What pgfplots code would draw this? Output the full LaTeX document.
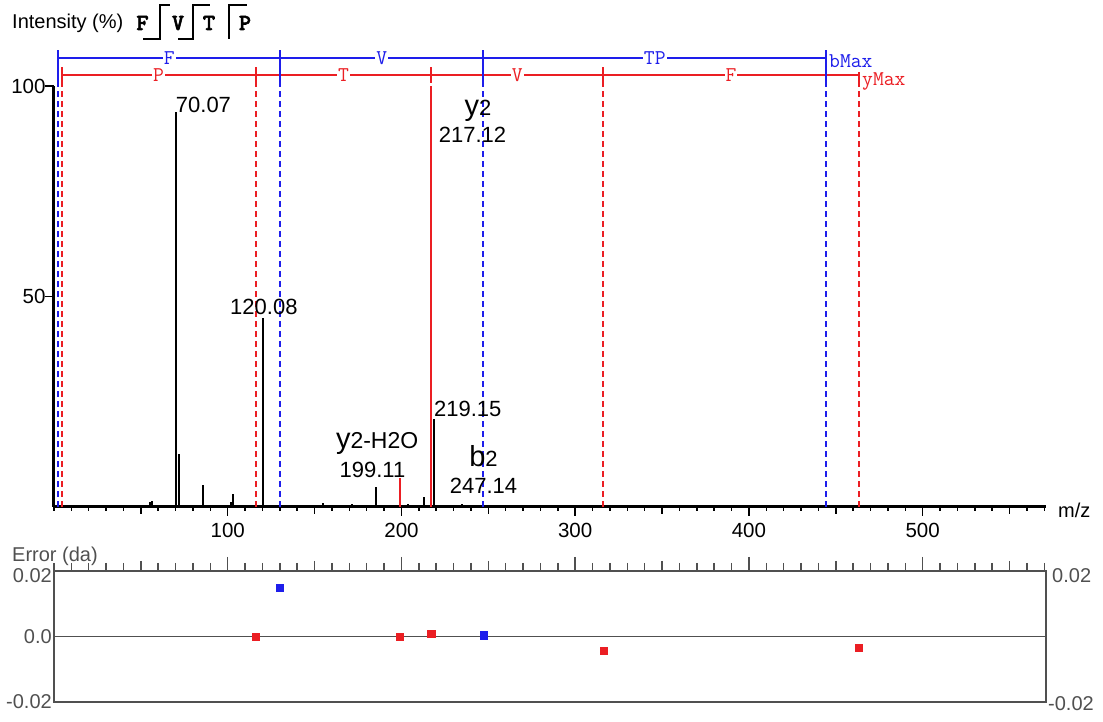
\documentclass[border=0pt]{standalone}
\usepackage{fontspec}
\setmainfont{Liberation Sans}
\newfontfamily\seqfont[FakeBold=2.5]{lmmonolt10-bold.otf}
\usepackage{pgfplots}
\pgfplotsset{compat=1.18}
\definecolor{ionred}{RGB}{235,30,35}
\definecolor{ionblue}{RGB}{30,30,235}
\definecolor{errgray}{RGB}{80,80,80}
\newcommand{\fs}[1]{\fontsize{#1}{#1}\selectfont}
\begin{document}
\begin{tikzpicture}
\path[use as bounding box] (0pt,0pt) rectangle (1103pt,722pt);
% title and sequence
\node[anchor=base west, inner sep=0pt] at (12pt,693pt) {\fs{20}Intensity (\%)};
\node[anchor=base, inner sep=0pt] at (142.5pt,692pt) {\fs{23}\seqfont F};
\node[anchor=base, inner sep=0pt] at (178pt,692pt) {\fs{23}\seqfont V};
\node[anchor=base, inner sep=0pt] at (209pt,692pt) {\fs{23}\seqfont T};
\node[anchor=base, inner sep=0pt] at (245pt,692pt) {\fs{23}\seqfont P};
\draw[line width=1.5pt] (143pt,683pt) -- (160pt,683pt) -- (160pt,717pt) -- (170pt,717pt);
\draw[line width=1.5pt] (178pt,683pt) -- (193pt,683pt) -- (193pt,717pt) -- (210pt,717pt);
\draw[line width=1.5pt] (229pt,683pt) -- (229pt,717pt) -- (247pt,717pt);

\begin{axis}[at={(54pt,215pt)}, anchor=south west, scale only axis,
  width=992pt, height=421pt, xmin=0, xmax=571, ymin=0, ymax=100,
  clip=false, axis x line*=bottom, axis y line*=left,
  axis line style={line width=3pt, black},
  tick align=outside,
  /pgf/number format/assume math mode=true,
  xtick={100,200,300,400,500}, minor xtick={0,10,...,570},
  extra x ticks={50,150,250,350,450,550}, extra x tick labels={},
  extra tick style={major tick length=7pt},
  ytick={50,100},
  major tick length=9pt, minor tick length=4pt,
  every tick/.style={line width=1.5pt, black},
  ticklabel style={font=\fs{20.5}},
  xticklabel style={yshift=-4pt},
  yticklabel style={xshift=4pt},
  ]
% ion ladders: dashed guide lines
\pgfplotsinvokeforeach{4.4,116.07,316.19,463.26}{\draw[ionred, line width=2pt, dash pattern=on 6pt off 4pt] (axis cs:#1,0) -- (axis cs:#1,100.7);}
\pgfplotsinvokeforeach{2.5,130.1,247.14,444.4}{\draw[ionblue, line width=2pt, dash pattern=on 6pt off 4pt] (axis cs:#1,0) -- (axis cs:#1,100.7);}
% peaks
\addplot[ycomb, black, line width=2pt, mark=none] coordinates {
 (55.5,1.2) (56.3,1.4) (70.07,93.8) (72.1,12.5) (85.9,5.2) (101.7,1.2) (103.3,3.2)
 (120.08,44.9) (154.6,1.0) (171.5,0.8) (185.3,4.8) (203.5,0.8) (213,2.4) (218.7,20.9)
 (234.8,0.6) (251,0.5)};
\addplot[ycomb, ionred, line width=2pt, mark=none] coordinates {(199.11,6.8) (217.12,100)};
\addplot[ycomb, ionblue, line width=2pt, mark=none] coordinates {(247.14,1.2)};
% ladder lines
\addplot[ionblue, line width=1.5pt, mark=none] coordinates {(2.5,106.65) (444.4,106.65)};
\addplot[ionred, line width=1.5pt, mark=none] coordinates {(4.4,102.6) (463.26,102.6)};
\pgfplotsinvokeforeach{2.5,130.1,247.14,444.4}{\draw[ionblue, line width=2pt] (axis cs:#1,100.7) -- (axis cs:#1,108.6);}
\pgfplotsinvokeforeach{4.4,116.07,217.12,316.19}{\draw[ionred, line width=2pt] (axis cs:#1,100.7) -- (axis cs:#1,104.5);}
\draw[ionred, line width=2pt] (axis cs:463.26,100.7) -- (axis cs:463.26,103.3);
% ladder labels
\begin{scope}[every node/.style={fill=white, inner sep=1pt, font=\ttfamily\fs{21}}]
\node[text=ionblue] at (axis cs:66.3,106.65) {F};
\node[text=ionblue] at (axis cs:188.6,106.65) {V};
\node[text=ionblue] at (axis cs:345.8,106.65) {TP};
\node[text=ionred] at (axis cs:60.2,102.6) {P};
\node[text=ionred] at (axis cs:166.6,102.6) {T};
\node[text=ionred] at (axis cs:266.7,102.6) {V};
\node[text=ionred] at (axis cs:389.7,102.6) {F};
\end{scope}
\node[anchor=base west, inner sep=0pt, text=ionblue, font=\ttfamily\fs{21}] at (axis cs:446.1,104.5) {bMax};
\node[anchor=base west, inner sep=0pt, text=ionred, font=\ttfamily\fs{21}] at (axis cs:465.1,100.2) {yMax};
% peak labels
\begin{scope}[every node/.style={inner sep=0pt, font=\fs{22}}]
\node[anchor=base west] at (axis cs:70.07,93.8) {70.07};
\node[anchor=base] at (axis cs:120.8,45.8) {120.08};
\node[anchor=base west] at (axis cs:218.7,21.6) {219.15};
\node[anchor=base] at (axis cs:244.1,92.9) {{\fs{29}y}2};
\node[anchor=base] at (axis cs:240.9,86.5) {217.12};
\node[anchor=base] at (axis cs:186,13.8) {{\fs{29}y}{\fs{23}2-H2O}};
\node[anchor=base] at (axis cs:183.3,7.1) {199.11};
\node[anchor=base] at (axis cs:247.2,9.7) {{\fs{29}b}2};
\node[anchor=base] at (axis cs:247.2,3.1) {247.14};
\end{scope}
\node[anchor=west, inner sep=0pt, font=\fs{20}] at ([xshift=12pt,yshift=-3pt]rel axis cs:1,0) {m/z};
\end{axis}

\node[anchor=base west, inner sep=0pt, text=errgray] at (12pt,160pt) {\fs{20}Error (da)};

\begin{axis}[at={(54pt,20pt)}, anchor=south west, scale only axis,
  width=992pt, height=131pt, xmin=0, xmax=571, ymin=-0.02, ymax=0.02,
  clip=false, axis line style={line width=1.5pt, errgray},
  tick align=outside, xtick pos=right,
  xtick={100,200,300,400,500}, xticklabels={}, minor xtick={0,10,...,570},
  extra x ticks={50,150,250,350,450,550}, extra x tick labels={},
  extra tick style={major tick length=10pt},
  major tick length=14pt, minor tick length=8pt,
  every tick/.style={line width=1.5pt, errgray},
  ytick=\empty,
  ]
\addplot[errgray, line width=1.5pt, mark=none] coordinates {(0,0) (571,0)};
\addplot[only marks, mark=square*, mark size=3.6pt, ionred] coordinates {(116.07,0.0) (199.11,0.0) (217.12,0.0009) (316.19,-0.0044) (463.26,-0.0033)};
\addplot[only marks, mark=square*, mark size=3.6pt, ionblue] coordinates {(130.1,0.015) (247.14,0.0004)};
\begin{scope}[every node/.style={inner sep=0pt, font=\fs{20}, text=errgray}]
\node[anchor=east] at ([xshift=-2pt,yshift=-5pt]axis cs:0,0.02) {0.02};
\node[anchor=east] at ([xshift=-2pt]axis cs:0,0) {0.0};
\node[anchor=east] at ([xshift=-2pt]axis cs:0,-0.02) {-0.02};
\node[anchor=west] at ([xshift=6pt,yshift=-5pt]axis cs:571,0.02) {0.02};
\node[anchor=west] at ([xshift=2pt,yshift=-2pt]axis cs:571,-0.02) {-0.02};
\end{scope}
\end{axis}
\end{tikzpicture}
\end{document}
